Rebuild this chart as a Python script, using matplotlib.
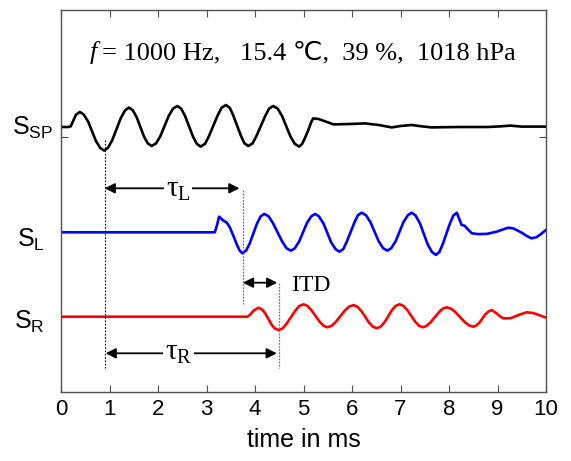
import numpy as np
import matplotlib
matplotlib.use('Agg')
import matplotlib.pyplot as plt

plt.rcParams['font.family'] = ['Liberation Sans', 'DejaVu Sans']
plt.rcParams['mathtext.fontset'] = 'custom'
plt.rcParams['mathtext.rm'] = 'Liberation Serif'
plt.rcParams['mathtext.it'] = 'Liberation Serif:italic'
plt.rcParams['mathtext.sf'] = 'Liberation Sans'

# speaker signal S_SP (time in ms, amplitude in a.u.)
t_sp = [0.00, 0.15, 0.20, 0.25, 0.31, 0.39, 0.47, 0.56, 0.64, 0.72, 0.81, 0.89,
        0.97, 1.06, 1.145, 1.23, 1.32, 1.40, 1.48, 1.56, 1.635, 1.71, 1.79, 1.87,
        1.96, 2.05, 2.135, 2.22, 2.31, 2.40, 2.48, 2.56, 2.64, 2.72, 2.80, 2.88,
        2.97, 3.05, 3.14, 3.23, 3.31, 3.40, 3.48, 3.55, 3.63, 3.71, 3.78, 3.86,
        3.95, 4.03, 4.12, 4.21, 4.29, 4.38, 4.47, 4.56, 4.645, 4.73, 4.82, 4.91,
        4.97, 5.03, 5.10, 5.16, 5.20, 5.31, 5.45, 5.62, 5.95, 6.27, 6.55, 6.82,
        7.00, 7.23, 7.45, 7.64, 8.20, 8.80, 9.05, 9.26, 9.50, 10.00]
s_sp = [0.00, 0.00, 0.03, 0.30, 0.62, 0.75, 0.62, 0.27, -0.215, -0.70, -1.05, -1.18,
        -1.035, -0.64, -0.105, 0.43, 0.83, 0.97, 0.84, 0.49, 0.01, -0.47, -0.82, -0.95,
        -0.82, -0.45, 0.05, 0.55, 0.92, 1.05, 0.91, 0.54, 0.035, -0.47, -0.84, -0.98,
        -0.84, -0.46, 0.06, 0.58, 0.96, 1.10, 0.96, 0.59, 0.075, -0.44, -0.81, -0.95,
        -0.82, -0.45, 0.05, 0.55, 0.92, 1.05, 0.91, 0.54, 0.035, -0.47, -0.84, -0.98,
        -0.85, -0.55, -0.15, 0.25, 0.43, 0.40, 0.28, 0.13, 0.15, 0.18, 0.10, -0.02,
        0.05, 0.10, 0.03, -0.02, 0.00, 0.00, 0.03, 0.07, 0.02, 0.02]

# left ear S_L
t_l = [0.00, 3.17, 3.21, 3.26, 3.35, 3.42, 3.48, 3.55, 3.62, 3.68, 3.74,
       3.815, 3.89, 3.965, 4.04, 4.115, 4.19, 4.28, 4.37, 4.465, 4.56, 4.65, 4.74,
       4.82, 4.91, 4.99, 5.07, 5.16, 5.24, 5.32, 5.41, 5.49, 5.57, 5.66, 5.74,
       5.82, 5.89, 5.97, 6.05, 6.12, 6.20, 6.29, 6.38, 6.465, 6.55, 6.64, 6.73,
       6.81, 6.90, 6.98, 7.06, 7.15, 7.23, 7.31, 7.40, 7.48, 7.56, 7.65, 7.73,
       7.80, 7.87, 7.945, 8.02, 8.09, 8.16, 8.26, 8.32, 8.40, 8.47, 8.60, 8.78,
       8.98, 9.10, 9.22, 9.32, 9.42, 9.50, 9.60, 9.70, 9.80, 9.90, 10.00]
s_l = [0.00, 0.00, 0.30, 0.78, 0.58, 0.48, 0.25, -0.15, -0.58, -0.90, -1.05,
       -0.92, -0.56, -0.065, 0.43, 0.79, 0.92, 0.80, 0.46, 0.00, -0.46, -0.80, -0.92,
       -0.80, -0.46, 0.00, 0.46, 0.80, 0.92, 0.79, 0.45, -0.025, -0.50, -0.84, -0.97,
       -0.84, -0.48, 0.005, 0.49, 0.85, 0.98, 0.85, 0.505, 0.03, -0.445, -0.79, -0.92,
       -0.79, -0.445, 0.03, 0.505, 0.85, 0.98, 0.84, 0.45, -0.075, -0.60, -0.99, -1.13,
       -0.99, -0.60, -0.075, 0.45, 0.84, 0.98, 0.37, 0.33, 0.12, -0.05, -0.09, -0.08,
       0.03, 0.13, 0.23, 0.20, 0.08, -0.02, -0.18, -0.30, -0.25, -0.08, 0.12]

# right ear S_R
t_r = [0.00, 3.84, 3.90, 3.97, 4.07, 4.14, 4.21, 4.275, 4.34, 4.41, 4.48,
       4.57, 4.65, 4.74, 4.83, 4.91, 5.00, 5.08, 5.16, 5.245, 5.33, 5.41, 5.49,
       5.58, 5.67, 5.76, 5.85, 5.94, 6.03, 6.11, 6.19, 6.27, 6.35, 6.43, 6.51,
       6.59, 6.67, 6.745, 6.82, 6.90, 6.98, 7.06, 7.14, 7.22, 7.30, 7.38, 7.46,
       7.54, 7.62, 7.705, 7.79, 7.87, 7.95, 8.04, 8.13, 8.225, 8.32, 8.41, 8.50,
       8.56, 8.63, 8.69, 8.75, 8.82, 8.88, 8.98, 9.05, 9.12, 9.26, 9.35, 9.45,
       9.60, 9.74, 9.87, 10.00]
s_r = [0.00, 0.00, 0.10, 0.30, 0.45, 0.37, 0.17, -0.11, -0.39, -0.595, -0.67,
       -0.585, -0.35, -0.025, 0.30, 0.53, 0.62, 0.54, 0.33, 0.045, -0.24, -0.45, -0.53,
       -0.455, -0.25, 0.025, 0.30, 0.505, 0.58, 0.50, 0.29, 0.00, -0.29, -0.50, -0.58,
       -0.50, -0.28, 0.02, 0.32, 0.54, 0.62, 0.54, 0.33, 0.045, -0.24, -0.45, -0.53,
       -0.46, -0.28, -0.03, 0.22, 0.40, 0.47, 0.405, 0.23, -0.015, -0.26, -0.435, -0.50,
       -0.445, -0.29, -0.085, 0.12, 0.275, 0.33, 0.17, 0.02, -0.08, -0.08, 0.00, 0.10,
       0.22, 0.18, 0.07, -0.05]

# marker times (ms)
t_sp_min = 0.90
t_l_min = 3.75
t_r_min = 4.49

off_sp, off_l, off_r = 13.25, 7.985, 3.765

fig = plt.figure(figsize=(5.71, 4.61), dpi=100)
ax = fig.add_axes([61/571, 1 - 392/461, 485/571, 382/461])

ax.plot(t_sp, np.array(s_sp) + off_sp, color='black', lw=1.9, solid_joinstyle='round')
ax.plot(t_l, np.array(s_l) + off_l, color='#0000ff', lw=1.9, solid_joinstyle='round')
ax.plot(t_r, np.array(s_r) + off_r, color='#ff0000', lw=1.9, solid_joinstyle='round')

# dotted marker lines
ax.plot([t_sp_min, t_sp_min], [12.6, 1.2], color='black', lw=0.8, ls=(0, (1.5, 1.5)))
ax.plot([t_l_min, t_l_min], [10.1, 4.4], color='#777777', lw=0.9, ls=(0, (1.5, 1)))
ax.plot([t_r_min, t_r_min], [5.47, 1.2], color='#777777', lw=0.9, ls=(0, (1.5, 1)))

arr = dict(arrowstyle='<|-|>', color='black', lw=1.3, mutation_scale=15,
           shrinkA=0, shrinkB=0)
ax.annotate('', xy=(t_sp_min, 10.185), xytext=(3.68, 10.185), arrowprops=arr)
ax.annotate('', xy=(t_l_min, 5.465), xytext=(4.46, 5.465), arrowprops=arr)
ax.annotate('', xy=(0.92, 1.935), xytext=(4.45, 1.935), arrowprops=arr)

ax.text(2.42, 9.75, r'$\mathrm{\tau_L}$', fontsize=21, ha='center', va='baseline',
        bbox=dict(facecolor='white', edgecolor='none', pad=1))
ax.text(2.42, 1.6, r'$\mathrm{\tau_R}$', fontsize=21, ha='center', va='baseline',
        bbox=dict(facecolor='white', edgecolor='none', pad=1))
ax.text(4.75, 5.05, 'ITD', fontsize=17, family='Liberation Serif', ha='left', va='baseline')

# header
ax.text(0.6, 16.65, 'f', fontsize=19, family='Liberation Serif', style='italic',
        ha='left', va='baseline')
ax.text(0.84, 16.65, '= 1000 Hz,   15.4 \u2103,  39 %,  1018 hPa', fontsize=19,
        family=['Liberation Serif', 'DejaVu Sans'], ha='left', va='baseline')

# signal labels
ax.text(-0.17, 12.85, r'$\mathsf{S_{SP}}$', fontsize=18, ha='right', va='baseline',
        clip_on=False)
ax.text(-0.33, 7.25, r'$\mathsf{S_L}$', fontsize=18, ha='right', va='baseline',
        clip_on=False)
ax.text(-0.33, 3.15, r'$\mathsf{S_R}$', fontsize=18, ha='right', va='baseline',
        clip_on=False)

ax.set_xlim(0, 10)
ax.set_ylim(0, 19.1)
ax.set_xticks(range(0, 11))
ax.set_yticks([12.75])
ax.set_yticklabels([])
ax.tick_params(direction='in', length=5, top=True, right=True, labelsize=16,
               color='#505050', pad=5)
for sp in ax.spines.values():
    sp.set_color('#505050')
    sp.set_linewidth(1.0)
ax.set_xlabel('time in ms', fontsize=18, labelpad=6)

fig.savefig('out.png', dpi=100)
